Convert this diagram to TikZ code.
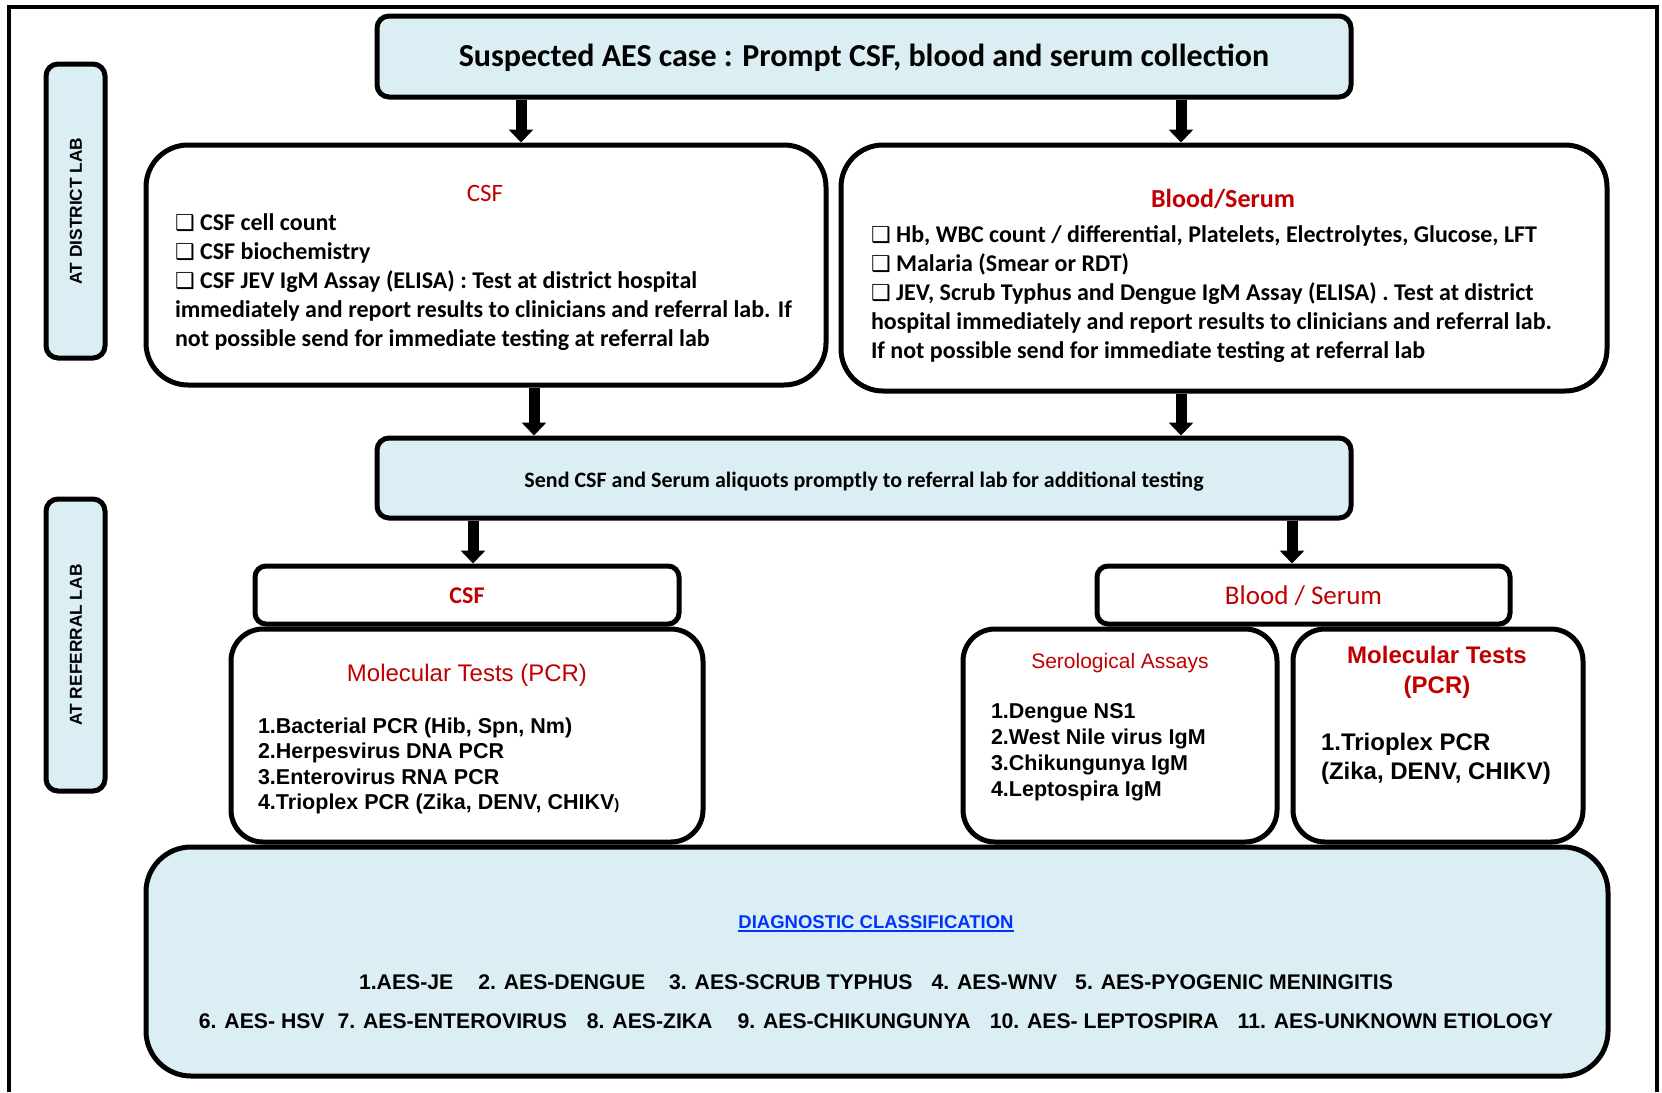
\documentclass[tikz,border=0pt]{standalone}
\usepackage{fontspec}
\setmainfont{Carlito}
\newfontfamily\arial{Liberation Sans}
\newfontfamily\dejavu{DejaVu Sans}
\usetikzlibrary{arrows.meta}
\definecolor{boxfill}{HTML}{DAEEF3}
\definecolor{titlered}{HTML}{C00000}
\definecolor{linkblue}{HTML}{0033FF}
% shadowed check box used as a list bullet
\newcommand{\chkbox}{{\dejavu\fontsize{22}{22}\selectfont ❑}}
\newcommand{\fsz}[2]{\fontsize{#1}{#2}\selectfont}

\begin{document}
\begin{tikzpicture}[x=1pt,y=-1pt,
  box/.style={draw=black, line width=5pt, inner sep=0pt, rounded corners=#1},
  box/.default=12pt,
  bluebox/.style={box=#1, fill=boxfill},
  bluebox/.default=12pt,
  bigarrow/.style={draw=black, line width=11pt, -{Triangle[width=24pt,length=13pt]}},
  txt/.style={inner sep=0pt, outer sep=0pt},
  % multi-line blocks are placed by the baseline of their last line
  listtxt/.style={txt, align=left, anchor=base west},
]
\useasboundingbox (0,0) rectangle (1662,1092);

% page frame
\draw[line width=4pt] (9,1092) -- (9,7) -- (1657,7) -- (1657,1092);

% side labels
\node[bluebox, minimum width=59pt, minimum height=294pt] (distL) at (75.5,211) {};
\node[txt, rotate=90, font=\arial\bfseries\fsz{17.3}{17.3}] (distLT) at (76,211) {AT DISTRICT LAB};
\node[bluebox, minimum width=59pt, minimum height=292pt] (refL) at (75.5,645) {};
\node[txt, rotate=90, font=\arial\bfseries\fsz{17.3}{17.3}] (refLT) at (76,645) {AT REFERRAL LAB};

% boxes
\node[bluebox, minimum width=974pt, minimum height=81pt] (top) at (864,56.5) {};
\node[box=42pt, minimum width=680pt, minimum height=240pt] (csfD) at (486,265) {};
\node[box=42pt, minimum width=766pt, minimum height=246pt] (bloodD) at (1224,268) {};
\node[bluebox, minimum width=974pt, minimum height=80pt] (mid) at (864,478) {};
\node[bluebox=45pt, minimum width=1462pt, minimum height=229pt] (diag) at (877,961.5) {};
\node[box=32pt, minimum width=472pt, minimum height=213pt] (molL) at (467,735.5) {};
\node[box=32pt, minimum width=314pt, minimum height=213pt] (sero) at (1120,735.5) {};
\node[box=32pt, minimum width=290pt, minimum height=213pt] (molR) at (1438,735.5) {};
\node[box=11pt, minimum width=424pt, minimum height=58pt] (csfH) at (467,595) {};
\node[box=11pt, minimum width=413pt, minimum height=58pt] (bloodH) at (1303.5,595) {};

% arrows
\coordinate (ax1) at (521,0);
\coordinate (ax2) at (1181,0);
\coordinate (ax3) at (534,0);
\coordinate (ax4) at (473,0);
\coordinate (ax5) at (1292,0);
\draw[bigarrow] (ax1 |- top.south) -- (ax1 |- csfD.north);
\draw[bigarrow] (ax2 |- top.south) -- (ax2 |- bloodD.north);
\draw[bigarrow] (ax3 |- csfD.south) -- (ax3 |- mid.north);
\draw[bigarrow] (ax2 |- bloodD.south) -- (ax2 |- mid.north);
\draw[bigarrow] (ax4 |- mid.south) -- (ax4 |- csfH.north);
\draw[bigarrow] (ax5 |- mid.south) -- (ax5 |- bloodH.north);

% top
\node[txt, anchor=base, font=\bfseries\fsz{32}{32}] (topT) at (864,66)
  {Suspected AES case : Prompt CSF, blood and serum collection};

% district lab: CSF
\node[txt, anchor=base, text=titlered, font=\fsz{25}{25}] (csfDT) at (485,201) {CSF};
\node[listtxt, font=\bfseries\fsz{24}{29}] (csfDL) at (175,346)
  {\chkbox\ CSF cell count\\
   \chkbox\ CSF biochemistry\\
   \chkbox\ CSF JEV IgM Assay (ELISA) : Test at district hospital\\
   immediately and report results to clinicians and referral lab. If\\
   not possible send for immediate testing at referral lab};

% district lab: blood / serum
\node[txt, anchor=base, text=titlered, font=\bfseries\fsz{26}{26}] (bloodDT) at (1223,207) {Blood/Serum};
\node[listtxt, font=\bfseries\fsz{24}{28.9}] (bloodDL) at (871,358.5)
  {\chkbox\ Hb, WBC count / differential, Platelets, Electrolytes, Glucose, LFT\\
   \chkbox\ Malaria (Smear or RDT)\\
   \chkbox\ JEV, Scrub Typhus and Dengue IgM Assay (ELISA) . Test at district\\
   hospital immediately and report results to clinicians and referral lab.\\
   If not possible send for immediate testing at referral lab};

% referral step
\node[txt, anchor=base, font=\bfseries\fsz{22}{22}] (midT) at (864,487)
  {Send CSF and Serum aliquots promptly to referral lab for additional testing};

% referral lab: CSF
\node[txt, anchor=base, text=titlered, font=\bfseries\fsz{24}{24}] (csfHT) at (467,603) {CSF};
\node[txt, anchor=base, text=titlered, font=\arial\fsz{24}{24}] (molLT) at (467,681) {Molecular Tests (PCR)};
\node[listtxt, font=\arial\bfseries\fsz{21.5}{25.5}] (molLL) at (258,809.5)
  {1.Bacterial PCR (Hib, Spn, Nm)\\
   2.Herpesvirus DNA PCR\\
   3.Enterovirus RNA PCR\\
   4.Trioplex PCR (Zika, DENV, CHIKV{\fsz{15}{15})}};

% referral lab: blood / serum
\node[txt, anchor=base, text=titlered, font=\fsz{27}{27}] (bloodHT) at (1303.5,604) {Blood / Serum};
\node[txt, anchor=base, text=titlered, font=\arial\fsz{21}{21}] (seroT) at (1120,668) {Serological Assays};
\node[listtxt, font=\arial\bfseries\fsz{21.5}{25.7}] (seroL) at (991,796)
  {1.Dengue NS1\\
   2.West Nile virus IgM\\
   3.Chikungunya IgM\\
   4.Leptospira IgM};
\node[txt, anchor=base, align=center, text=titlered, font=\arial\bfseries\fsz{24}{30}] (molRT) at (1437,693)
  {Molecular Tests\\(PCR)};
\node[listtxt, font=\arial\bfseries\fsz{24}{29}] (molRL) at (1321,779)
  {1.Trioplex PCR\\
   (Zika, DENV, CHIKV)};

% diagnostic classification
\node[txt, anchor=base, text=linkblue, font=\arial\bfseries\fsz{18.5}{18.5}] (diagT) at (876,928)
  {DIAGNOSTIC CLASSIFICATION};
\draw[linkblue, line width=1.6pt] ([yshift=-3pt]diagT.base west) -- ([yshift=-3pt]diagT.base east);
\node[txt, anchor=base, font=\arial\bfseries\fsz{21.2}{21.2}] (diagA) at (876,989)
  {1.AES-JE\hspace{25pt}2. AES-DENGUE\hspace{24pt}3. AES-SCRUB TYPHUS\hspace{19pt}4. AES-WNV\hspace{18pt}5. AES-PYOGENIC MENINGITIS};
\node[txt, anchor=base, font=\arial\bfseries\fsz{21.2}{21.2}] (diagB) at (876,1028)
  {6. AES- HSV\hspace{13pt}7. AES-ENTEROVIRUS\hspace{20pt}8. AES-ZIKA\hspace{25pt}9. AES-CHIKUNGUNYA\hspace{19pt}10. AES- LEPTOSPIRA\hspace{19pt}11. AES-UNKNOWN ETIOLOGY};
\end{tikzpicture}
\end{document}
